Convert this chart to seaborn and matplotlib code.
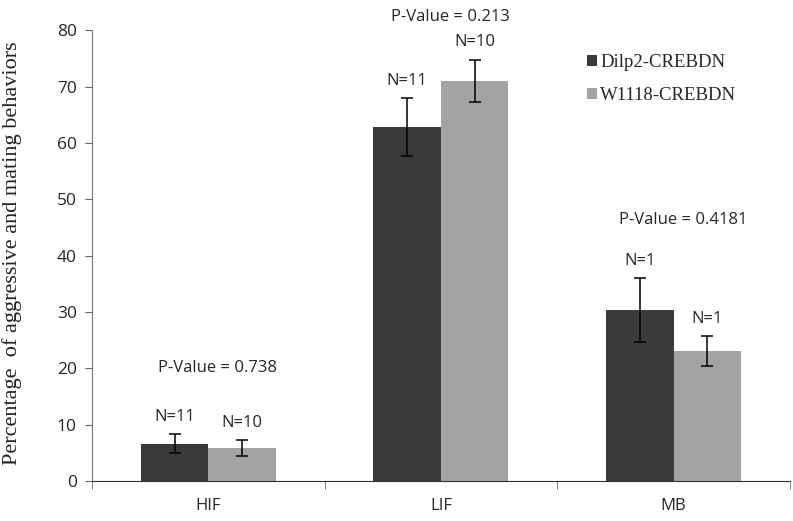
import numpy as np
import pandas as pd
import matplotlib
matplotlib.use("Agg")
import matplotlib.pyplot as plt
import seaborn as sns

# data
groups = ["HIF", "LIF", "MB"]
strains = ["Dilp2-CREBDN", "W1118-CREBDN"]
dilp2_vals = [6.6, 62.8, 30.4]
w1118_vals = [5.8, 71.0, 23.1]
dilp2_err = [1.7, 5.1, 5.7]
w1118_err = [1.4, 3.8, 2.7]
dilp2_n = ["N=11", "N=11", "N=1"]
w1118_n = ["N=10", "N=10", "N=1"]
p_labels = ["P-Value = 0.738", "P-Value = 0.213", "P-Value = 0.4181"]
p_heights = [20.0, 82.3, 46.3]

df = pd.DataFrame({
    "group": groups * 2,
    "strain": [strains[0]] * 3 + [strains[1]] * 3,
    "value": dilp2_vals + w1118_vals,
})

sns.set_style("white")
sans = ["Open Sans", "DejaVu Sans"]
serif = ["Liberation Serif", "DejaVu Serif"]
plt.rcParams["font.family"] = sans

fig = plt.figure(figsize=(7.93, 5.21), dpi=100)
ax = fig.add_axes([0.116, 0.077, 0.88, 0.865])

sns.barplot(data=df, x="group", y="value", hue="strain", order=groups,
            hue_order=strains, palette=["#3a3a3a", "#a3a3a3"],
            width=0.58, gap=0, errorbar=None, saturation=1, linewidth=0, ax=ax)

errs = [dilp2_err, w1118_err]
ns = [dilp2_n, w1118_n]
bar_groups = list(ax.containers)
for k, cont in enumerate(bar_groups):
    for i, bar in enumerate(cont):
        cx = bar.get_x() + bar.get_width() / 2
        h = bar.get_height()
        ax.errorbar(cx, h, yerr=errs[k][i], color="black", lw=1.1,
                    capsize=4, capthick=1.1)
        ax.text(cx, h + errs[k][i] + 1.6, ns[k][i], ha="center", va="bottom",
                fontsize=12)

for i, (lab, y) in enumerate(zip(p_labels, p_heights)):
    ax.text(i + 0.04, y, lab, ha="center", va="center", fontsize=12,
            clip_on=False)

ax.set_xlim(-0.5, 2.5)
ax.set_ylim(0, 80)
ax.set_yticks(range(0, 81, 10))
ax.set_xticks([0, 1, 2])
ax.set_xticklabels(groups)
ax.set_xticks([-0.5, 0.5, 1.5, 2.5], minor=True)
ax.tick_params(axis="x", which="major", length=0, pad=12, labelsize=12)
ax.tick_params(axis="x", which="minor", length=6, direction="out", color="#666666")
ax.tick_params(axis="y", length=5, direction="out", color="#666666", labelsize=12.5, pad=6)
ax.tick_params(left=True, bottom=True, which="both")
for s in ["top", "right"]:
    ax.spines[s].set_visible(False)
ax.spines["left"].set_color("#777777")
ax.spines["bottom"].set_color("#333333")

ax.set_xlabel("")
ax.set_ylabel("Percentage  of aggressive and mating behaviors", family=serif,
              fontsize=16, color="#222222")
ax.yaxis.set_label_coords(-0.1, 0.505)

leg = ax.legend(loc="upper left", bbox_to_anchor=(0.685, 0.985), frameon=False,
                prop={"family": serif, "size": 13.5}, handlelength=0.55,
                handleheight=0.55, handletextpad=0.15, labelspacing=0.85)

fig.savefig("out.png", dpi=100)
